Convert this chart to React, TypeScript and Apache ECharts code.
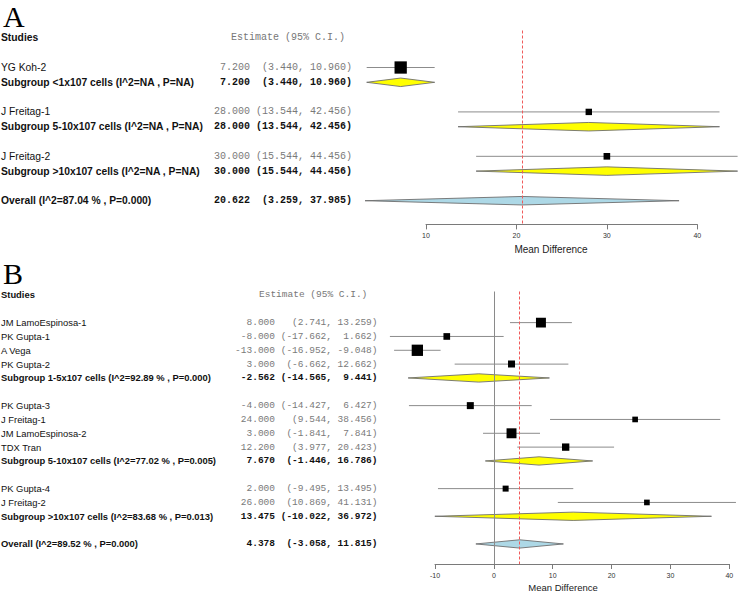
import React, { useEffect, useRef } from 'react';
import * as echarts from 'echarts';

// ---------------- Panel A data ----------------
const studyNamesA = ['YG Koh-2', 'J Freitag-1', 'J Freitag-2'];
const studyEstA = [7.2, 28.0, 30.0];
const studyLowA = [3.44, 13.544, 15.544];
const studyHighA = [10.96, 42.456, 44.456];
const studyRowA = [2, 5, 8];
const studyWeightA = [1.0, 0.52, 0.54]; // relative box size (weight)

const summaryNamesA = [
  'Subgroup <1x107 cells (I^2=NA , P=NA)',
  'Subgroup 5-10x107 cells (I^2=NA , P=NA)',
  'Subgroup >10x107 cells (I^2=NA , P=NA)',
  'Overall (I^2=87.04 % , P=0.000)',
];
const summaryEstA = [7.2, 28.0, 30.0, 20.622];
const summaryLowA = [3.44, 13.544, 15.544, 3.259];
const summaryHighA = [10.96, 42.456, 44.456, 37.985];
const summaryRowA = [3, 6, 9, 11];
const summaryIsOverallA = [false, false, false, true];
const ticksA = [10, 20, 30, 40];

// ---------------- Panel B data ----------------
const studyNamesB = [
  'JM LamoEspinosa-1', 'PK Gupta-1', 'A Vega', 'PK Gupta-2',
  'PK Gupta-3', 'J Freitag-1', 'JM LamoEspinosa-2', 'TDX Tran',
  'PK Gupta-4', 'J Freitag-2',
];
const studyEstB = [8.0, -8.0, -13.0, 3.0, -4.0, 24.0, 3.0, 12.2, 2.0, 26.0];
const studyLowB = [2.741, -17.662, -16.952, -6.662, -14.427, 9.544, -1.841, 3.977, -9.495, 10.869];
const studyHighB = [13.259, 1.662, -9.048, 12.662, 6.427, 38.456, 7.841, 20.423, 13.495, 41.131];
const studyRowB = [2, 3, 4, 5, 8, 9, 10, 11, 14, 15];
const studyWeightB = [0.88, 0.59, 1.0, 0.62, 0.62, 0.5, 0.88, 0.65, 0.53, 0.5];

const summaryNamesB = [
  'Subgroup 1-5x107 cells (I^2=92.89 % , P=0.000)',
  'Subgroup 5-10x107 cells (I^2=77.02 % , P=0.005)',
  'Subgroup >10x107 cells (I^2=83.68 % , P=0.013)',
  'Overall (I^2=89.52 % , P=0.000)',
];
const summaryEstB = [-2.562, 7.67, 13.475, 4.378];
const summaryLowB = [-14.565, -1.446, -10.022, -3.058];
const summaryHighB = [9.441, 16.786, 36.972, 11.815];
const summaryRowB = [6, 12, 16, 18];
const summaryIsOverallB = [false, false, false, true];
const ticksB = [-10, 0, 10, 20, 30, 40];

const headerStudies = 'Studies';
const headerEstimate = 'Estimate (95% C.I.)';
const axisTitle = 'Mean Difference';

const SANS = '"Liberation Sans", Arial, sans-serif';
const MONO = '"Liberation Mono", "Courier New", monospace';
const SERIF = '"Liberation Serif", "Times New Roman", serif';

type Panel = {
  idx: number;
  studyNames: string[]; studyEst: number[]; studyLow: number[]; studyHigh: number[];
  studyRow: number[]; studyWeight: number[];
  summaryNames: string[]; summaryEst: number[]; summaryLow: number[]; summaryHigh: number[];
  summaryRow: number[]; summaryIsOverall: boolean[];
  ticks: number[];
  layout: {
    left: number; width: number; top: number; height: number; yMin: number; yMax: number;
    nameSize: number; monoSize: number; estRight: number; lowRight: number; highRight: number;
    headerX: number; boxMax: number; diamondH: number; zeroLine: boolean;
  };
};

const panels: Panel[] = [
  {
    idx: 0,
    studyNames: studyNamesA, studyEst: studyEstA, studyLow: studyLowA, studyHigh: studyHighA,
    studyRow: studyRowA, studyWeight: studyWeightA,
    summaryNames: summaryNamesA, summaryEst: summaryEstA, summaryLow: summaryLowA, summaryHigh: summaryHighA,
    summaryRow: summaryRowA, summaryIsOverall: summaryIsOverallA,
    ticks: ticksA,
    layout: {
      left: 426, width: 271.3, top: 30.5, height: 193.9, yMin: -0.5, yMax: 12.6,
      nameSize: 10.3, monoSize: 10, estRight: 250, lowRight: 304, highRight: 352,
      headerX: 231, boxMax: 12.3, diamondH: 8.5, zeroLine: false,
    },
  },
  {
    idx: 1,
    studyNames: studyNamesB, studyEst: studyEstB, studyLow: studyLowB, studyHigh: studyHighB,
    studyRow: studyRowB, studyWeight: studyWeightB,
    summaryNames: summaryNamesB, summaryEst: summaryEstB, summaryLow: summaryLowB, summaryHigh: summaryHighB,
    summaryRow: summaryRowB, summaryIsOverall: summaryIsOverallB,
    ticks: ticksB,
    layout: {
      left: 435, width: 294.3, top: 291.5, height: 272.5, yMin: -0.25, yMax: 19.45,
      nameSize: 9.4, monoSize: 9.5, estRight: 275, lowRight: 332, highRight: 377.5,
      headerX: 259, boxMax: 11.3, diamondH: 8.3, zeroLine: true,
    },
  },
];

function buildOption() {
  const grids: any[] = [];
  const xAxes: any[] = [];
  const yAxes: any[] = [];
  const series: any[] = [];

  panels.forEach((p) => {
    const L = p.layout;
    grids.push({ left: L.left, top: L.top, width: L.width, height: L.height, containLabel: false });
    const tMin = p.ticks[0];
    const tMax = p.ticks[p.ticks.length - 1];
    xAxes.push({
      gridIndex: p.idx, type: 'value', position: 'bottom', min: tMin, max: tMax, interval: p.ticks[1] - p.ticks[0],
      axisLine: { show: true, onZero: false, lineStyle: { color: '#7a7a7a', width: 1 } },
      axisTick: { show: true, length: 5, lineStyle: { color: '#7a7a7a' } },
      axisLabel: { fontSize: 7, color: '#333', fontFamily: SANS, margin: 8 },
      splitLine: { show: false },
    });
    yAxes.push({ gridIndex: p.idx, type: 'value', min: L.yMin, max: L.yMax, inverse: true, show: false });

    const overallIdx = p.summaryIsOverall.indexOf(true);
    const markData: any[] = [];
    if (L.zeroLine) {
      markData.push({ xAxis: 0, lineStyle: { color: '#8a8a8a', type: 'solid', width: 1 } });
    }
    markData.push({ xAxis: p.summaryEst[overallIdx], lineStyle: { color: '#f05a5a', type: [3, 2], width: 1 } });

    // studies: CI lines + squares
    series.push({
      type: 'custom', xAxisIndex: p.idx, yAxisIndex: p.idx, clip: false, silent: true,
      encode: { x: [0, 1, 2], y: 3 },
      data: p.studyEst.map((e, i) => [e, p.studyLow[i], p.studyHigh[i], p.studyRow[i], p.studyWeight[i]]),
      renderItem: (params: any, api: any) => {
        const row = api.value(3);
        const c = api.coord([api.value(0), row]);
        const lo = api.coord([api.value(1), row]);
        const hi = api.coord([api.value(2), row]);
        const s = L.boxMax * api.value(4);
        return {
          type: 'group',
          children: [
            { type: 'line', shape: { x1: lo[0], y1: lo[1], x2: hi[0], y2: hi[1] }, style: { stroke: '#8c8c8c', lineWidth: 1 } },
            { type: 'rect', shape: { x: c[0] - s / 2, y: c[1] - s / 2, width: s, height: s }, style: { fill: '#000' } },
          ],
        };
      },
      markLine: { silent: true, symbol: 'none', label: { show: false }, data: markData },
      z: 3,
    });

    // summaries: diamonds
    series.push({
      type: 'custom', xAxisIndex: p.idx, yAxisIndex: p.idx, clip: false, silent: true,
      encode: { x: [0, 1, 2], y: 3 },
      data: p.summaryEst.map((e, i) => [e, p.summaryLow[i], p.summaryHigh[i], p.summaryRow[i], p.summaryIsOverall[i] ? 1 : 0]),
      renderItem: (params: any, api: any) => {
        const row = api.value(3);
        const c = api.coord([api.value(0), row]);
        const lo = api.coord([api.value(1), row]);
        const hi = api.coord([api.value(2), row]);
        const h = L.diamondH / 2;
        return {
          type: 'polygon',
          shape: { points: [[lo[0], c[1]], [c[0], c[1] - h], [hi[0], c[1]], [c[0], c[1] + h]] },
          style: { fill: api.value(4) ? '#add8e6' : '#ffff00', stroke: '#6e6e6e', lineWidth: 0.9 },
        };
      },
      z: 2,
    });

    // table text
    type Entry = { row: number; name: string; est?: number; lo?: number; hi?: number; bold: boolean; header?: boolean };
    const entries: Entry[] = [{ row: 0, name: headerStudies, bold: true, header: true }];
    p.studyNames.forEach((n, i) => entries.push({ row: p.studyRow[i], name: n, est: p.studyEst[i], lo: p.studyLow[i], hi: p.studyHigh[i], bold: false }));
    p.summaryNames.forEach((n, i) => entries.push({ row: p.summaryRow[i], name: n, est: p.summaryEst[i], lo: p.summaryLow[i], hi: p.summaryHigh[i], bold: true }));

    series.push({
      type: 'custom', xAxisIndex: p.idx, yAxisIndex: p.idx, clip: false, silent: true,
      encode: { x: 0, y: 1 },
      data: entries.map((e) => [tMin, e.row]),
      renderItem: (params: any, api: any) => {
        const e = entries[params.dataIndex];
        const y = api.coord([tMin, api.value(1)])[1];
        const txt = (text: string, x: number, align: string, font: string, size: number, bold: boolean, fill: string) => ({
          type: 'text', x, y,
          style: { text, fill, fontFamily: font, fontSize: size, fontWeight: bold ? 'bold' : 'normal', align, verticalAlign: 'middle', textAlign: align, textVerticalAlign: 'middle' },
        });
        const children: any[] = [txt(e.name, 1, 'left', SANS, L.nameSize, e.bold, '#111')];
        if (e.header) {
          children.push(txt(headerEstimate, L.headerX, 'left', MONO, L.monoSize, false, '#777'));
        } else {
          const col = e.bold ? '#111' : '#7a7a7a';
          children.push(txt((e.est as number).toFixed(3), L.estRight, 'right', MONO, L.monoSize, e.bold, col));
          children.push(txt('(' + (e.lo as number).toFixed(3) + ',', L.lowRight, 'right', MONO, L.monoSize, e.bold, col));
          children.push(txt((e.hi as number).toFixed(3) + ')', L.highRight, 'right', MONO, L.monoSize, e.bold, col));
        }
        return { type: 'group', children };
      },
      z: 4,
    });
  });

  const graphic = [
    { type: 'text', left: 3, top: 1, style: { text: 'A', fontFamily: SERIF, fontSize: 30, fill: '#000' } },
    { type: 'text', left: 3, top: 258, style: { text: 'B', fontFamily: SERIF, fontSize: 30, fill: '#000' } },
    { type: 'text', x: 551, y: 249, style: { text: axisTitle, fontFamily: SANS, fontSize: 10, fill: '#222', align: 'center', verticalAlign: 'middle', textAlign: 'center', textVerticalAlign: 'middle' } },
    { type: 'text', x: 563, y: 587, style: { text: axisTitle, fontFamily: SANS, fontSize: 9.5, fill: '#222', align: 'center', verticalAlign: 'middle', textAlign: 'center', textVerticalAlign: 'middle' } },
  ];

  return {
    animation: false,
    backgroundColor: '#fff',
    grid: grids,
    xAxis: xAxes,
    yAxis: yAxes,
    series,
    graphic,
  };
}

export default function App() {
  const ref = useRef<HTMLDivElement>(null);
  useEffect(() => {
    if (!ref.current) return;
    const chart = echarts.init(ref.current, undefined, { renderer: 'svg' });
    chart.setOption(buildOption() as any);
    return () => chart.dispose();
  }, []);
  return <div ref={ref} style={{ position: 'fixed', left: 0, top: 0, width: 740, height: 592, background: '#fff' }} />;
}
